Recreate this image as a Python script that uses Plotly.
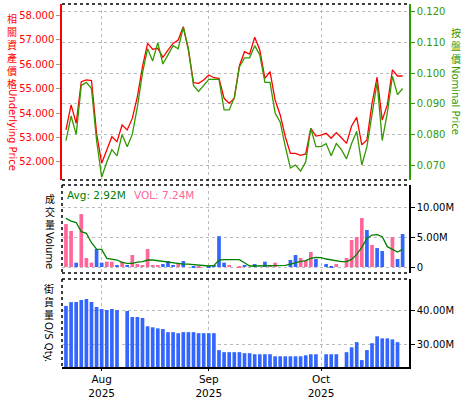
import plotly.graph_objects as go

# ---------------- data ----------------
dates = [
    "2025-07-23", "2025-07-24", "2025-07-25", "2025-07-28", "2025-07-29", "2025-07-30", "2025-07-31",
    "2025-08-01", "2025-08-04", "2025-08-05", "2025-08-06", "2025-08-07", "2025-08-08",
    "2025-08-11", "2025-08-12", "2025-08-13", "2025-08-14", "2025-08-15",
    "2025-08-18", "2025-08-19", "2025-08-20", "2025-08-21", "2025-08-22",
    "2025-08-25", "2025-08-26", "2025-08-27", "2025-08-28", "2025-08-29",
    "2025-09-01", "2025-09-02", "2025-09-03", "2025-09-04", "2025-09-05",
    "2025-09-08", "2025-09-09", "2025-09-10", "2025-09-11", "2025-09-12",
    "2025-09-15", "2025-09-16", "2025-09-17", "2025-09-18", "2025-09-19",
    "2025-09-22", "2025-09-23", "2025-09-24", "2025-09-25", "2025-09-26",
    "2025-09-29", "2025-09-30",
    "2025-10-02", "2025-10-03", "2025-10-06", "2025-10-08", "2025-10-09", "2025-10-10",
    "2025-10-13", "2025-10-14", "2025-10-15", "2025-10-16", "2025-10-17",
    "2025-10-20", "2025-10-21", "2025-10-22", "2025-10-23", "2025-10-24",
    "2025-10-27",
]

underlying_price = [
    53.31, 54.33, 53.58, 55.28, 55.35, 55.32, 53.17, 51.95, 52.49, 53.03,
    52.83, 53.51, 53.31, 53.78, 54.67, 55.89, 56.84, 56.60, 56.64, 56.27,
    56.57, 56.84, 56.98, 57.52, 56.57, 55.24, 55.21, 55.35, 55.55, 55.44,
    55.41, 54.60, 54.39, 54.60, 55.93, 56.50, 56.40, 57.09, 56.57, 55.41,
    55.69, 54.53, 53.92, 53.03, 52.35, 52.35, 52.27, 52.33, 53.37, 53.06,
    53.10, 53.17, 52.97, 53.20, 52.99, 52.76, 53.47, 53.82, 52.70, 52.90,
    54.39, 55.46, 53.71, 54.33, 55.76, 55.51, 55.51,
]

nominal_price = [
    0.078, 0.086, 0.080, 0.096, 0.097, 0.095, 0.078, 0.066, 0.071, 0.075,
    0.073, 0.080, 0.076, 0.080, 0.089, 0.100, 0.108, 0.104, 0.110, 0.103,
    0.106, 0.109, 0.108, 0.115, 0.108, 0.096, 0.094, 0.096, 0.098, 0.098,
    0.098, 0.088, 0.088, 0.092, 0.102, 0.105, 0.105, 0.109, 0.106, 0.097,
    0.097, 0.087, 0.084, 0.076, 0.069, 0.070, 0.068, 0.071, 0.082, 0.076,
    0.076, 0.077, 0.073, 0.077, 0.075, 0.072, 0.077, 0.081, 0.070, 0.076,
    0.087, 0.097, 0.078, 0.087, 0.099, 0.093, 0.095,
]

# volume in millions
volume_m = [
    7.24, 6.07, 0.73, 8.93, 1.52, 0.73, 3.03, 0.73, 0.90, 0.90,
    0.34, 0.90, 0.34, 2.02, 0.50, 0.34, 3.03, 0.34, 0.34, 0.50,
    1.00, 0.34, 0.50, 1.00, 0.00, 0.17, 0.17, 0.00, 0.17, 0.34,
    5.20, 0.73, 0.34, 0.00, 0.17, 0.34, 0.00, 0.50, 0.00, 0.90,
    0.34, 0.73, 0.00, 0.00, 1.18, 2.02, 1.52, 1.18, 2.53, 1.35,
    0.00, 0.50, 0.17, 0.50, 0.00, 1.52, 4.55, 5.06, 8.26, 6.24,
    3.71, 3.20, 2.70, 0.00, 5.06, 1.35, 5.56,
]

# U = up day (pink), D = down day (blue)
volume_dir = list(
    "UUDUUUDDUU"
    "DUDUUUUUUD"
    "DDUDDDUDDD"
    "DDUDUDDDDD"
    "UUDDDDUUUD"
    "DDDUDUUUUD"
    "UDDDUDD"
)

avg_volume_m = [
    8.20, 7.75, 7.50, 5.96, 5.67, 4.10, 3.03, 2.98, 1.46, 1.29,
    1.18, 0.79, 0.62, 0.62, 0.84, 0.90, 1.18, 1.18, 1.07, 0.96,
    0.79, 0.67, 0.56, 0.50, 0.50, 0.39, 0.34, 0.28, 0.17, 0.28,
    1.18, 1.24, 1.24, 1.24, 1.24, 0.73, 0.17, 0.17, 0.17, 0.22,
    0.28, 0.28, 0.28, 0.28, 0.50, 0.79, 0.96, 1.07, 1.46, 1.63,
    1.57, 1.35, 1.18, 0.96, 0.90, 0.90, 1.29, 2.13, 3.31, 4.83,
    5.39, 5.45, 5.11, 3.43, 2.92, 2.53, 2.98,
]

# outstanding quantity in millions
os_qty_m = [
    41.3, 42.4, 42.4, 43.0, 43.3, 42.4, 41.0, 40.4, 40.1, 40.4,
    40.1, None, 39.8, 38.1, 38.1, 37.8, 35.4, 35.1, 34.8, 34.6,
    33.7, 33.7, 33.4, 33.7, 33.7, 33.7, 33.4, 33.4, 33.4, 33.4,
    28.5, 27.9, 27.9, 27.9, 27.9, 27.6, 27.6, 27.3, 27.3, 27.3,
    27.3, 26.7, 26.7, 26.7, 26.7, 26.7, 26.7, 27.0, 27.3, 27.3,
    None, 27.3, 27.3, 27.3, None, 27.9, 29.3, 30.8, 25.6, 28.5,
    30.5, 32.5, 31.9, 31.9, 31.6, 30.8, None,
]

month_ticks = ["2025-08-01", "2025-09-01", "2025-10-02"]
month_labels = ["Aug<br>2025", "Sep<br>2025", "Oct<br>2025"]

under_ticks = [52, 53, 54, 55, 56, 57, 58]
nominal_ticks = [0.07, 0.08, 0.09, 0.10, 0.11, 0.12]
vol_ticks = [0, 5, 10]
vol_tick_labels = ["0", "5.00M", "10.00M"]
os_ticks = [30, 40]
os_tick_labels = ["30.00M", "40.00M"]

avg_label = "Avg: 2.92M"
vol_label = "VOL: 7.24M"

# ---------------- style ----------------
W, H = 475, 400
RED = "#ff0000"
GREEN = "#339900"
PINK = "#ff6699"
BLUE = "#3366ff"
AVG_GREEN = "#008000"
GRID = "#bbbbbb"
FONT = "DejaVu Sans"
CJK = "Noto Sans CJK TC"


def fx(p):
    return p / W


def fy(p):
    return 1 - p / H


X0, X1 = 62, 409
TOP = (4, 180)
MID = (185, 273)
BOT = (279, 367)

bar_colors = [PINK if d == "U" else BLUE for d in volume_dir]

fig = go.Figure()

fig.add_trace(go.Scatter(x=dates, y=underlying_price, mode="lines",
                         line=dict(color=RED, width=1.3), xaxis="x", yaxis="y"))
fig.add_trace(go.Scatter(x=dates, y=nominal_price, mode="lines",
                         line=dict(color=GREEN, width=1.3), xaxis="x", yaxis="y2"))
fig.add_trace(go.Bar(x=dates, y=volume_m, marker=dict(color=bar_colors, line=dict(width=0)),
                     width=0.72, xaxis="x2", yaxis="y3"))
fig.add_trace(go.Scatter(x=dates, y=avg_volume_m, mode="lines",
                         line=dict(color=AVG_GREEN, width=1.3), xaxis="x2", yaxis="y3"))
fig.add_trace(go.Bar(x=dates, y=os_qty_m, marker=dict(color=BLUE, line=dict(width=0)),
                     width=0.72, xaxis="x3", yaxis="y4"))

xrange = [-0.78, 67.25]
xcommon = dict(type="category", range=xrange, tickvals=month_ticks, ticktext=month_labels,
               showgrid=True, gridcolor=GRID, griddash="dot", gridwidth=1,
               zeroline=False, domain=[fx(X0), fx(X1)])

layout = dict(
    width=W, height=H, autosize=False,
    margin=dict(l=0, r=0, t=0, b=0),
    paper_bgcolor="white", plot_bgcolor="white",
    showlegend=False,
    font=dict(family=FONT, size=10, color="black"),
    xaxis=dict(**xcommon, anchor="y", showticklabels=False, ticks=""),
    xaxis2=dict(**xcommon, anchor="y3", matches="x", showticklabels=False, ticks=""),
    xaxis3=dict(**xcommon, anchor="y4", matches="x", showticklabels=True,
                ticks="outside", ticklen=2, tickcolor="black",
                showline=True, linecolor="black", linewidth=1.5,
                tickfont=dict(family=FONT, size=10.5, color="black")),
    yaxis=dict(domain=[fy(TOP[1]), fy(TOP[0])], anchor="x", side="left",
               range=[51.265, 58.449], tickvals=under_ticks,
               ticktext=[f"{v:.3f}" for v in under_ticks],
               tickfont=dict(family=FONT, size=10, color=RED),
               showgrid=False, zeroline=False,
               showline=True, linecolor=RED, linewidth=1.5,
               ticks="outside", ticklen=4, tickcolor="#999999"),
    yaxis2=dict(overlaying="y", anchor="x", side="right",
                range=[0.0651, 0.1226], tickvals=nominal_ticks,
                ticktext=[f"{v:.3f}" for v in nominal_ticks],
                tickfont=dict(family=FONT, size=10, color=GREEN),
                showgrid=True, gridcolor=GRID, griddash="dot", gridwidth=1,
                zeroline=False,
                showline=True, linecolor=GREEN, linewidth=1.5,
                ticks="outside", ticklen=4, tickcolor=GREEN),
    yaxis3=dict(domain=[fy(MID[1]), fy(MID[0])], anchor="x2", side="right",
                range=[-1.01, 13.83], tickvals=vol_ticks, ticktext=vol_tick_labels,
                tickfont=dict(family=FONT, size=10, color="black"),
                showgrid=True, gridcolor=GRID, griddash="dot", gridwidth=1,
                zeroline=False,
                showline=True, linecolor="black", linewidth=1.5,
                ticks="outside", ticklen=4, tickcolor="black"),
    yaxis4=dict(domain=[fy(BOT[1]), fy(BOT[0])], anchor="x3", side="right",
                range=[23.6, 49.1], tickvals=os_ticks, ticktext=os_tick_labels,
                tickfont=dict(family=FONT, size=10, color="black"),
                showgrid=True, gridcolor=GRID, griddash="dot", gridwidth=1,
                zeroline=False,
                showline=True, linecolor="black", linewidth=1.5,
                ticks="outside", ticklen=4, tickcolor="black"),
)
fig.update_layout(**layout)

# dotted panel borders
dot = dict(color="black", width=1.5, dash="dot")
borders = [
    (X0, TOP[0], X1, TOP[0]), (X0, TOP[1], X1, TOP[1]),
    (X0, MID[0], X1, MID[0]), (X0, MID[1], X1, MID[1]), (X0, MID[0], X0, MID[1]),
    (X0, BOT[0], X1, BOT[0]), (X0, BOT[0], X0, BOT[1]),
]
for (a, b, c, d) in borders:
    fig.add_shape(type="line", xref="paper", yref="paper",
                  x0=fx(a), y0=fy(b), x1=fx(c), y1=fy(d), line=dot, layer="above")

annotations = []


def vertical_title(cjk, latin, xc, cjk_top, latin_center, color):
    annotations.append(dict(text="<br>".join(cjk), x=fx(xc), y=fy(cjk_top),
                            xref="paper", yref="paper", showarrow=False,
                            xanchor="center", yanchor="top", borderpad=0,
                            font=dict(family=CJK, size=10, color=color)))
    annotations.append(dict(text=latin, x=fx(xc), y=fy(latin_center),
                            xref="paper", yref="paper", showarrow=False, textangle=90,
                            xanchor="center", yanchor="middle", borderpad=0,
                            font=dict(family=FONT, size=10, color=color)))


vertical_title("相關資產價格", "Underlying Price", 12, 10, 130, RED)
vertical_title("按盤價", "Nominal Price", 456, 24, 100, GREEN)
vertical_title("成交量", "Volume", 50, 190, 250, "black")
vertical_title("街貨量", "O/S Qty.", 49, 280, 342, "black")

annotations.append(dict(text=avg_label, x=fx(65), y=fy(195), xref="paper", yref="paper",
                        showarrow=False, xanchor="left", yanchor="middle",
                        font=dict(family=FONT, size=10.5, color=AVG_GREEN)))
annotations.append(dict(text=vol_label, x=fx(132), y=fy(195), xref="paper", yref="paper",
                        showarrow=False, xanchor="left", yanchor="middle",
                        font=dict(family=FONT, size=10.5, color=PINK)))

fig.update_layout(annotations=annotations)

fig.write_html("out.html", config={"displayModeBar": False},
               post_script="document.body.style.margin='0';")
